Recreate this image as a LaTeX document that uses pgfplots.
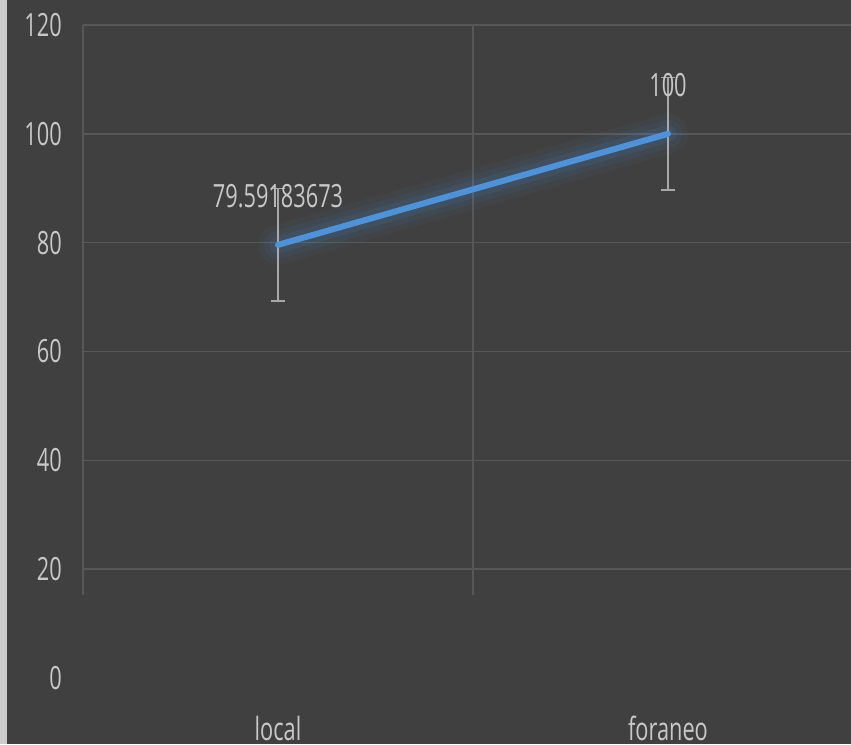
\documentclass[border=0pt]{standalone}
\usepackage{pgfplots}
\usepackage{pgfplotstable}
\pgfplotsset{compat=1.18}
\usepackage{fontspec}
\setmainfont{Open Sans}[FakeStretch=0.68]
\definecolor{bg}{HTML}{404040}
\definecolor{txt}{HTML}{C8C8C8}
\definecolor{gridc}{HTML}{575757}
\definecolor{ln}{HTML}{4C93DC}
\definecolor{errc}{HTML}{A8A8A8}

\pgfplotstableread{
x y err
0 79.59183673 10.3
1 100 10.3
}\mydata

\begin{document}
\begin{tikzpicture}[x=1pt,y=1pt]
\fill[bg] (0,0) rectangle (851,744);
\fill[black!20] (0,0) rectangle (7,744);
\useasboundingbox (0,0) rectangle (851,744);
\begin{scope}
\clip (7,0) rectangle (851,744);
\begin{axis}[at={(83pt,66pt)}, anchor=south west, scale only axis,
  width=780pt, height=653pt,
  xmin=-0.5, xmax=1.5, ymin=0, ymax=120,
  axis line style={draw=none}, tick style={draw=none},
  xtick={0,1}, xticklabels={local,foraneo},
  ytick={20,40,...,120}, extra y ticks={0}, extra y tick style={grid=none},
  ymajorgrids, grid style={gridc, line width=1.5pt},
  /pgf/number format/assume math mode=true,
  ticklabel style={txt, font=\fontsize{32}{38}\selectfont, inner sep=0pt},
  yticklabel style={anchor=east, xshift=-21pt},
  xticklabel style={anchor=center, yshift=-50pt},
  clip=false]
% vertical category separators (they stop short of the bottom, as in the source)
\pgfplotsinvokeforeach{-0.5,0.5,1.5}{
  \draw[gridc, line width=1.5pt] (axis cs:#1,15.3) -- (axis cs:#1,120);
}
\addplot[ln, line width=40pt, opacity=0.05, line cap=round] table[x=x,y=y] {\mydata};
\addplot[ln, line width=28pt, opacity=0.07, line cap=round] table[x=x,y=y] {\mydata};
\addplot[ln, line width=17pt, opacity=0.1, line cap=round] table[x=x,y=y] {\mydata};
\addplot[draw=none, forget plot, error bars/.cd, y dir=both, y explicit,
  error bar style={errc, line width=1.3pt},
  error mark options={rotate=90, mark size=7pt, errc, line width=1.3pt}]
  table[x=x,y=y,y error=err] {\mydata};
\addplot[ln, line width=6pt, line cap=round] table[x=x,y=y] {\mydata};
\addplot[draw=none, nodes near coords, point meta=explicit symbolic,
  nodes near coords style={txt, anchor=center, yshift=49pt,
  font=\fontsize{32}{38}\selectfont}]
  coordinates {(0,79.59183673) [79.59183673] (1,100) [100]};
\end{axis}
\end{scope}
\end{tikzpicture}
\end{document}
